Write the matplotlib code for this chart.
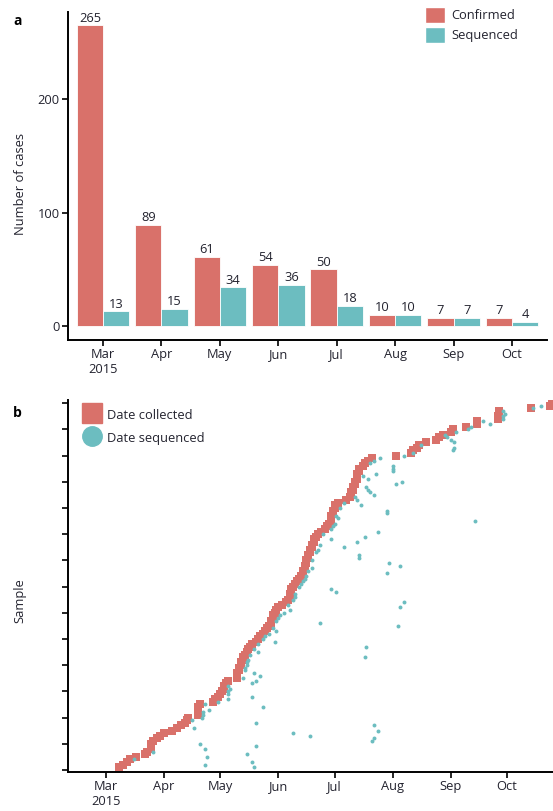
import matplotlib
matplotlib.use('Agg')
import matplotlib.pyplot as plt
from matplotlib.patches import Patch
from matplotlib.lines import Line2D
import numpy as np

plt.rcParams['font.family'] = ['Open Sans', 'DejaVu Sans']

# panel a: cases per month
months = ['Mar\n2015', 'Apr', 'May', 'Jun', 'Jul', 'Aug', 'Sep', 'Oct']
confirmed = [265, 89, 61, 54, 50, 10, 7, 7]
sequenced = [13, 15, 34, 36, 18, 10, 7, 4]

# panel b: days since 1 Mar 2015, one entry per sample (sorted by collection)
collected_day = [
    7, 9, 11, 13, 16, 21, 22, 24, 24, 24,
    25, 27, 29, 31, 35, 38, 40, 42, 43, 44,
    49, 49, 49, 49, 50, 57, 58, 60, 61, 62,
    63, 63, 64, 65, 70, 70, 70, 71, 71, 72,
    72, 73, 73, 74, 75, 76, 77, 78, 80, 81,
    82, 84, 85, 86, 87, 88, 88, 89, 89, 90,
    91, 92, 94, 96, 97, 98, 98, 99, 99, 100,
    101, 102, 103, 104, 105, 105, 106, 106, 107, 107,
    108, 108, 109, 109, 110, 110, 111, 111, 112, 113,
    115, 117, 118, 119, 120, 120, 120, 121, 121, 122,
    122, 124, 128, 130, 131, 131, 132, 132, 133, 133,
    134, 134, 134, 135, 135, 137, 138, 140, 142, 155,
    163, 164, 166, 167, 171, 176, 178, 180, 184, 185,
    192, 198, 198, 209, 209, 210, 210, 227, 237, 238,
]
sequenced_day = [
    79, 53, 78, 15, 54, 75, 25, 53, 80, 50,
    142, 143, 109, 100, 145, 47, 143, 80, 46, 51,
    52, 52, 55, 84, 53, 60, 65, 78, 65, 65,
    66, 65, 78, 80, 73, 82, 79, 74, 74, 75,
    75, 76, 138, 77, 81, 79, 139, 81, 90, 84,
    85, 87, 91, 89, 156, 114, 91, 92, 93, 95,
    98, 157, 97, 159, 100, 101, 101, 123, 120, 103,
    104, 105, 106, 107, 150, 108, 110, 157, 151, 110,
    135, 135, 112, 113, 127, 114, 134, 120, 138, 116,
    145, 120, 121, 122, 197, 124, 123, 150, 150, 125,
    136, 127, 134, 133, 143, 141, 140, 139, 155, 158,
    140, 137, 144, 153, 153, 153, 141, 143, 146, 159,
    164, 185, 186, 168, 186, 184, 182, 181, 187, 193,
    195, 205, 201, 212, 212, 213, 212, 228, 232, 240,
]
month_starts = [0, 31, 61, 92, 122, 153, 184, 214]

RED = '#d9716a'
TEAL = '#6cbdc0'
INK = '#23232f'
FS = 9.3

W, H = 553, 811
fig = plt.figure(figsize=(W / 100, H / 100), dpi=100)


def px_axes(left, top, right, bottom):
    return fig.add_axes([left / W, 1 - bottom / H, (right - left) / W, (bottom - top) / H])


def style(ax):
    for s in ['top', 'right']:
        ax.spines[s].set_visible(False)
    for s in ['left', 'bottom']:
        ax.spines[s].set_linewidth(1.4)
    ax.tick_params(length=4, width=1.2, labelsize=FS, labelcolor=INK, pad=2)


# ---- panel a
ax1 = px_axes(68, 12, 547, 340)
x = np.arange(len(months))
w = 0.45
b1 = ax1.bar(x - w / 2, confirmed, w, color=RED, edgecolor='white', linewidth=0.6)
b2 = ax1.bar(x + w / 2, sequenced, w, color=TEAL, edgecolor='white', linewidth=0.6)
ax1.bar_label(b1, padding=0.5, fontsize=FS, color=INK)
ax1.bar_label(b2, padding=0.5, fontsize=FS, color=INK)
ax1.set_xlim(-0.6, 7.6)
ax1.set_ylim(-12.3, 276.7)
ax1.set_xticks(x, months)
ax1.set_yticks([0, 100, 200])
style(ax1)
ax1.set_ylabel('Number of cases', fontsize=FS, color=INK)
ax1.yaxis.set_label_coords(-0.085, 0.476)
ax1.legend(handles=[Patch(facecolor=RED, edgecolor='white', label='Confirmed'),
                    Patch(facecolor=TEAL, edgecolor='white', label='Sequenced')],
           loc='upper left', bbox_to_anchor=(425 / W, 1 - 7 / H),
           bbox_transform=fig.transFigure, frameon=False, fontsize=FS,
           handlelength=1.55, handleheight=1.47, handletextpad=0.5,
           labelspacing=0.38, borderpad=0, borderaxespad=0, labelcolor=INK)

# ---- panel b
ax2 = px_axes(68, 400, 553, 772)
samples = np.arange(1, len(collected_day) + 1)
ax2.scatter(collected_day, samples, marker='s', s=26, color=RED, linewidths=0)
ax2.scatter(sequenced_day, samples, marker='o', s=8, color=TEAL, linewidths=0)
ax2.set_xlim(-20.3, 238.6)
ax2.set_ylim(-0.8, 141.2)
ax2.set_xticks(month_starts, months)
ax2.set_yticks(np.arange(0, 141, 10), [])
style(ax2)
ax2.set_ylabel('Sample', fontsize=FS, color=INK)
ax2.yaxis.set_label_coords(-0.085, 0.46)
ax2.legend(handles=[Line2D([], [], ls='none', marker='s', ms=14, color=RED, label='Date collected'),
                    Line2D([], [], ls='none', marker='o', ms=14, color=TEAL, label='Date sequenced')],
           loc='upper left', bbox_to_anchor=(82 / W, 1 - 407 / H),
           bbox_transform=fig.transFigure, frameon=False, fontsize=FS,
           handlelength=1.5, handleheight=1.5, handletextpad=0.45,
           labelspacing=0.55, borderpad=0, borderaxespad=0, labelcolor=INK)

fig.text(13 / W, 1 - 25 / H, 'a', fontsize=10, fontweight='bold', color='black')
fig.text(13 / W, 1 - 417 / H, 'b', fontsize=10, fontweight='bold', color='black')

fig.savefig('out.png', dpi=100)
